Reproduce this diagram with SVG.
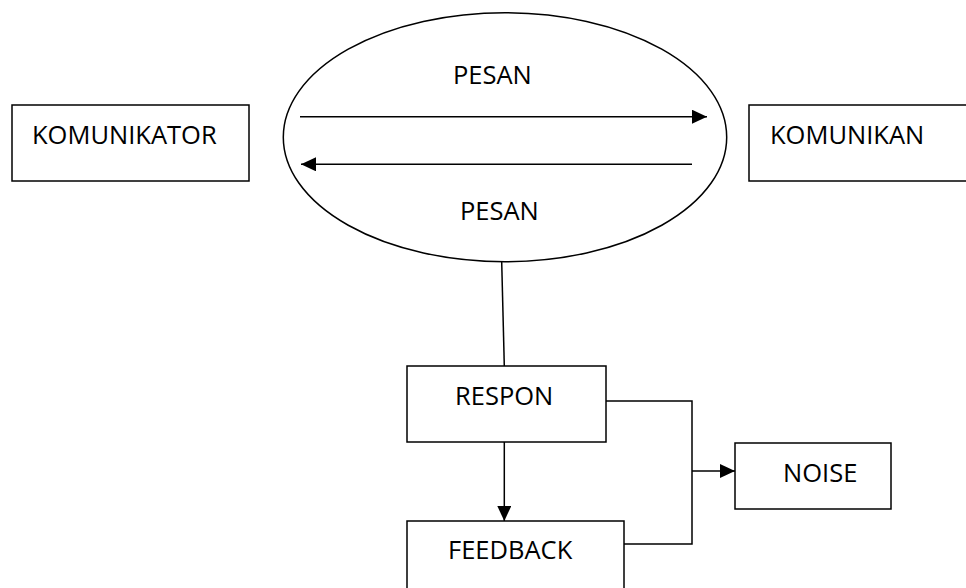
<svg xmlns="http://www.w3.org/2000/svg" width="966" height="588" viewBox="0 0 966 588">
  <style>
    .box { fill: #ffffff; stroke: #000000; stroke-width: 1.5; }
    .line { fill: none; stroke: #000000; stroke-width: 1.5; }
    .label { font-family: "Open Sans", "Liberation Sans", sans-serif; font-size: 25.5px; fill: #000000; }
  </style>
  <defs>
    <marker id="arrow" viewBox="0 0 15 14" refX="15" refY="7" markerWidth="15" markerHeight="14" markerUnits="userSpaceOnUse" orient="auto">
      <path d="M0,0 L15,7 L0,14 Z" fill="#000000"/>
    </marker>
  </defs>
  <rect width="966" height="588" fill="#ffffff"/>

  <g id="komunikator">
    <rect class="box" x="12" y="105" width="237" height="76"/>
    <text class="label" x="32" y="144">KOMUNIKATOR</text>
  </g>

  <g id="pesan">
    <ellipse class="box" cx="505" cy="137.2" rx="221.7" ry="124.5"/>
    <text class="label" x="453" y="84">PESAN</text>
    <text class="label" x="460" y="220">PESAN</text>
  </g>

  <g id="komunikan">
    <rect class="box" x="749" y="105" width="230" height="76"/>
    <text class="label" x="770" y="144">KOMUNIKAN</text>
  </g>

  <g id="respon">
    <rect class="box" x="407" y="366" width="199" height="76"/>
    <text class="label" x="455" y="405">RESPON</text>
  </g>

  <g id="feedback">
    <rect class="box" x="407" y="521" width="217" height="80"/>
    <text class="label" x="448" y="559">FEEDBACK</text>
  </g>

  <g id="noise">
    <rect class="box" x="735" y="443" width="156" height="66"/>
    <text class="label" x="783" y="482">NOISE</text>
  </g>

  <g id="connectors">
    <line class="line" x1="300" y1="116.7" x2="707" y2="116.7" marker-end="url(#arrow)"/>
    <line class="line" x1="692" y1="164.3" x2="301" y2="164.3" marker-end="url(#arrow)"/>
    <line class="line" x1="501.7" y1="261.7" x2="504.3" y2="366"/>
    <line class="line" x1="504.3" y1="442" x2="504.3" y2="521" marker-end="url(#arrow)"/>
    <polyline class="line" points="606,401 692,401 692,544 624,544"/>
    <line class="line" x1="692" y1="471" x2="735" y2="471" marker-end="url(#arrow)"/>
  </g>
</svg>
